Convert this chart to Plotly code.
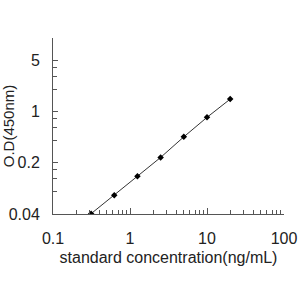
import plotly.graph_objects as go
import numpy as np

conc = [0.3125, 0.625, 1.25, 2.5, 5, 10, 20]
od = [0.0404, 0.072, 0.131, 0.236, 0.45, 0.83, 1.47]

x_ticks = [0.1, 1, 10, 100]
x_ticktext = ["0.1", "1", "10", "100"]
x_minor = [m * d for d in [0.1, 1, 10] for m in range(2, 10)]
y_ticks = [0.04, 0.2, 1, 5]
y_ticktext = ["0.04", "0.2", "1", "5"]
y_minor = [m * d for d in [0.04, 0.2, 1] for m in (2, 3, 4)]

font = "Liberation Sans, Arial, sans-serif"

fig = go.Figure()
fig.add_trace(go.Scatter(
    x=conc, y=od, mode="lines+markers",
    line=dict(color="#333333", width=1),
    marker=dict(symbol="diamond", size=5, color="black"),
    showlegend=False,
))

fig.update_layout(
    width=300, height=300,
    margin=dict(l=53, r=16, t=38, b=86),
    paper_bgcolor="white", plot_bgcolor="white",
    font=dict(family=font, size=16, color="#222222"),
    xaxis=dict(
        type="log", range=[-1, 2], automargin=False,
        tickmode="array", tickvals=x_ticks, ticktext=x_ticktext,
        ticks="inside", ticklen=6, tickcolor="#555555", tickwidth=1,
        minor=dict(tickmode="array", tickvals=x_minor, ticks="inside", ticklen=4, tickcolor="#555555", showgrid=False),
        showline=True, linecolor="#555555", linewidth=1,
        showgrid=False, zeroline=False,
        ticklabelstandoff=10,
        title=dict(text="standard concentration(ng/mL)", font=dict(size=16), standoff=5),
    ),
    yaxis=dict(
        type="log", range=[np.log10(0.04), 1], automargin=False,
        tickmode="array", tickvals=y_ticks, ticktext=y_ticktext,
        ticks="inside", ticklen=5, tickcolor="#555555", tickwidth=1,
        minor=dict(tickmode="array", tickvals=y_minor, ticks="inside", ticklen=4, tickcolor="#555555", showgrid=False),
        showline=True, linecolor="#555555", linewidth=1,
        showgrid=False, zeroline=False,
        ticklabelstandoff=9,
        title=dict(text="O.D(450nm)", font=dict(size=15), standoff=0),
    ),
)

fig.write_html("out.html")
